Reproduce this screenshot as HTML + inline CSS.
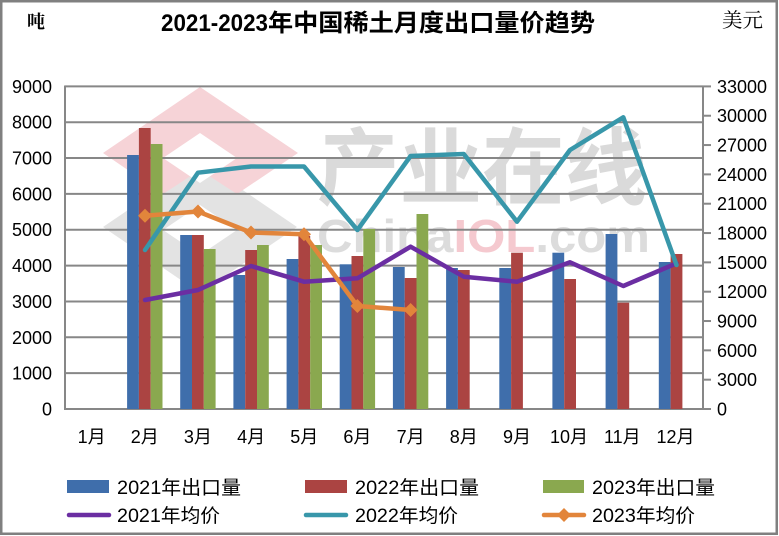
<!DOCTYPE html>
<html>
<head>
<meta charset="utf-8">
<style>
  html,body{margin:0;padding:0;background:#fff;}
  svg{display:block;}
  text{font-family:"Liberation Sans","Noto Sans CJK SC",sans-serif;fill:#000;}
</style>
</head>
<body>
<svg width="779" height="536" viewBox="0 0 779 536" xmlns="http://www.w3.org/2000/svg">
  <rect x="0" y="0" width="779" height="536" fill="#fff"/>

  <!-- watermark logo -->
  <g>
    <polygon points="103,227 200,161 297,227 200,293" fill="#e3e3e3"/>
    <polygon points="163,230 200,205 237,230 200,255" fill="#fff"/>
    <polygon points="103,153 200,87 298,153 237,194 200,170 163,194" fill="#f6d3d7"/>
    <polygon points="163,158 200,133 237,158 200,183" fill="#fff"/>
  </g>
  <!-- watermark text -->
  <text x="317" y="198" font-size="84" font-weight="bold" textLength="330" lengthAdjust="spacingAndGlyphs" style="fill:#dadada;font-family:'Noto Sans CJK SC',sans-serif">产业在线</text>
  <text x="317" y="252" font-size="46" font-weight="bold" textLength="333" lengthAdjust="spacingAndGlyphs" style="fill:#dcdcdc">China<tspan style="fill:#f5c9cf">IOL</tspan>.com</text>

  <!-- gridlines -->
  <g stroke="#878787" stroke-width="2">
    <line x1="65" y1="86.35" x2="703" y2="86.35"/>
    <line x1="65" y1="122.2" x2="703" y2="122.2"/>
    <line x1="65" y1="158.05" x2="703" y2="158.05"/>
    <line x1="65" y1="193.9" x2="703" y2="193.9"/>
    <line x1="65" y1="229.75" x2="703" y2="229.75"/>
    <line x1="65" y1="265.6" x2="703" y2="265.6"/>
    <line x1="65" y1="301.45" x2="703" y2="301.45"/>
    <line x1="65" y1="337.3" x2="703" y2="337.3"/>
    <line x1="65" y1="373.15" x2="703" y2="373.15"/>
    <!-- axes -->
    <line x1="65" y1="85.5" x2="65" y2="410"/>
    <line x1="703" y1="85.5" x2="703" y2="410"/>
    <line x1="64" y1="409" x2="704" y2="409"/>
    <!-- right ticks -->
    <line x1="703" y1="409" x2="711" y2="409"/>
    <line x1="703" y1="379.67" x2="711" y2="379.67"/>
    <line x1="703" y1="350.35" x2="711" y2="350.35"/>
    <line x1="703" y1="321.02" x2="711" y2="321.02"/>
    <line x1="703" y1="291.69" x2="711" y2="291.69"/>
    <line x1="703" y1="262.36" x2="711" y2="262.36"/>
    <line x1="703" y1="233.04" x2="711" y2="233.04"/>
    <line x1="703" y1="203.71" x2="711" y2="203.71"/>
    <line x1="703" y1="174.38" x2="711" y2="174.38"/>
    <line x1="703" y1="145.05" x2="711" y2="145.05"/>
    <line x1="703" y1="115.73" x2="711" y2="115.73"/>
    <line x1="703" y1="86.4" x2="711" y2="86.4"/>
  </g>

  <!-- bars: blue 2021 -->
  <g fill="#3f6eab">
    <rect x="127.1" y="155" width="11.8" height="254"/>
    <rect x="180.2" y="235" width="11.8" height="174"/>
    <rect x="233.4" y="275" width="11.8" height="134"/>
    <rect x="286.6" y="259" width="11.8" height="150"/>
    <rect x="339.7" y="264.3" width="11.8" height="144.7"/>
    <rect x="392.9" y="267" width="11.8" height="142"/>
    <rect x="446.1" y="268" width="11.8" height="141"/>
    <rect x="499.3" y="268" width="11.8" height="141"/>
    <rect x="552.4" y="252.7" width="11.8" height="156.3"/>
    <rect x="605.6" y="234" width="11.8" height="175"/>
    <rect x="658.8" y="262" width="11.8" height="147"/>
  </g>
  <!-- bars: red 2022 -->
  <g fill="#ab4442">
    <rect x="138.9" y="128" width="11.8" height="281"/>
    <rect x="192" y="235" width="11.8" height="174"/>
    <rect x="245.2" y="250" width="11.8" height="159"/>
    <rect x="298.4" y="236" width="11.8" height="173"/>
    <rect x="351.5" y="256" width="11.8" height="153"/>
    <rect x="404.7" y="278" width="11.8" height="131"/>
    <rect x="457.9" y="270" width="11.8" height="139"/>
    <rect x="511.1" y="252.7" width="11.8" height="156.3"/>
    <rect x="564.2" y="279" width="11.8" height="130"/>
    <rect x="617.4" y="302.7" width="11.8" height="106.3"/>
    <rect x="670.6" y="254" width="11.8" height="155"/>
  </g>
  <!-- bars: green 2023 -->
  <g fill="#8aa84f">
    <rect x="150.7" y="144" width="11.8" height="265"/>
    <rect x="203.8" y="249" width="11.8" height="160"/>
    <rect x="257" y="245" width="11.8" height="164"/>
    <rect x="310.2" y="245" width="11.8" height="164"/>
    <rect x="363.3" y="229" width="11.8" height="180"/>
    <rect x="416.5" y="214" width="11.8" height="195"/>
  </g>

  <!-- lines -->
  <polyline fill="none" stroke="#6b2ea2" stroke-width="4.5" stroke-linejoin="round" stroke-linecap="round"
    points="145,300 198,290 251,266 304,281.7 357.4,278.3 410.6,246.7 463.8,276.7 517,281.7 570,262.3 623.3,286 676.5,263.3"/>
  <polyline fill="none" stroke="#3897aa" stroke-width="4.5" stroke-linejoin="round" stroke-linecap="round"
    points="145,250 198,172.7 251,166.5 304,166.5 357.4,230 410.6,156 463.8,154 517,221.7 570,150 623.3,117.3 676.5,265"/>
  <polyline fill="none" stroke="#e2853b" stroke-width="4.5" stroke-linejoin="round" stroke-linecap="round"
    points="145,215.7 198,211.5 251,232.5 304,234.3 357.4,306 410.6,310"/>
  <g fill="#e2853b">
    <polygon points="145,208.7 152,215.7 145,222.7 138,215.7"/>
    <polygon points="198,204.5 205,211.5 198,218.5 191,211.5"/>
    <polygon points="251,225.5 258,232.5 251,239.5 244,232.5"/>
    <polygon points="304,227.3 311,234.3 304,241.3 297,234.3"/>
    <polygon points="357.4,299 364.4,306 357.4,313 350.4,306"/>
    <polygon points="410.6,303 417.6,310 410.6,317 403.6,310"/>
  </g>

  <!-- left axis labels -->
  <g font-size="18" text-anchor="end">
    <text x="52" y="415.5">0</text>
    <text x="52" y="379.6">1000</text>
    <text x="52" y="343.8">2000</text>
    <text x="52" y="307.9">3000</text>
    <text x="52" y="272.1">4000</text>
    <text x="52" y="236.2">5000</text>
    <text x="52" y="200.4">6000</text>
    <text x="52" y="164.5">7000</text>
    <text x="52" y="128.7">8000</text>
    <text x="52" y="92.8">9000</text>
  </g>
  <!-- right axis labels -->
  <g font-size="18">
    <text x="717" y="415.5">0</text>
    <text x="717" y="386.2">3000</text>
    <text x="717" y="356.8">6000</text>
    <text x="717" y="327.5">9000</text>
    <text x="717" y="298.2">12000</text>
    <text x="717" y="268.9">15000</text>
    <text x="717" y="239.5">18000</text>
    <text x="717" y="210.2">21000</text>
    <text x="717" y="180.9">24000</text>
    <text x="717" y="151.6">27000</text>
    <text x="717" y="122.2">30000</text>
    <text x="717" y="92.9">33000</text>
  </g>
  <!-- x labels -->
  <g font-size="18" text-anchor="middle">
    <text x="91.6" y="443">1月</text>
    <text x="144.8" y="443">2月</text>
    <text x="197.9" y="443">3月</text>
    <text x="251.1" y="443">4月</text>
    <text x="304.3" y="443">5月</text>
    <text x="357.4" y="443">6月</text>
    <text x="410.6" y="443">7月</text>
    <text x="463.8" y="443">8月</text>
    <text x="517" y="443">9月</text>
    <text x="569" y="443">10月</text>
    <text x="622.3" y="443">11月</text>
    <text x="675.5" y="443">12月</text>
  </g>

  <!-- title -->
  <text x="161" y="31" font-size="24" font-weight="bold" textLength="107" lengthAdjust="spacingAndGlyphs">2021-2023</text>
  <text x="268" y="31" font-size="24" font-weight="bold" textLength="327" lengthAdjust="spacingAndGlyphs">年中国稀土月度出口量价趋势</text>
  <text x="27" y="28" font-size="18" font-weight="bold" style="font-family:'Noto Serif CJK SC',serif">吨</text>
  <text x="722" y="27" font-size="20" textLength="41" lengthAdjust="spacingAndGlyphs" style="font-family:'Noto Serif CJK SC',serif">美元</text>

  <!-- legend -->
  <rect x="67" y="480" width="42" height="13" fill="#3f6eab"/>
  <text x="117" y="494" font-size="19" textLength="124" lengthAdjust="spacingAndGlyphs">2021年出口量</text>
  <rect x="305" y="480" width="42" height="13" fill="#ab4442"/>
  <text x="355" y="494" font-size="19" textLength="124" lengthAdjust="spacingAndGlyphs">2022年出口量</text>
  <rect x="543" y="480" width="41" height="13" fill="#8aa84f"/>
  <text x="592" y="494" font-size="19" textLength="123" lengthAdjust="spacingAndGlyphs">2023年出口量</text>

  <line x1="69" y1="515" x2="109" y2="515" stroke="#6b2ea2" stroke-width="4.5" stroke-linecap="round"/>
  <text x="117" y="522" font-size="19" textLength="103" lengthAdjust="spacingAndGlyphs">2021年均价</text>
  <line x1="306" y1="515" x2="346" y2="515" stroke="#3897aa" stroke-width="4.5" stroke-linecap="round"/>
  <text x="355" y="522" font-size="19" textLength="103" lengthAdjust="spacingAndGlyphs">2022年均价</text>
  <line x1="544" y1="515" x2="584" y2="515" stroke="#e2853b" stroke-width="4.5" stroke-linecap="round"/>
  <polygon points="564,508 571,515 564,522 557,515" fill="#e2853b"/>
  <text x="592" y="522" font-size="19" textLength="103" lengthAdjust="spacingAndGlyphs">2023年均价</text>

  <!-- outer border -->
  <rect x="1.25" y="1.25" width="775.5" height="532.5" fill="none" stroke="#808080" stroke-width="2.5"/>
</svg>
</body>
</html>
